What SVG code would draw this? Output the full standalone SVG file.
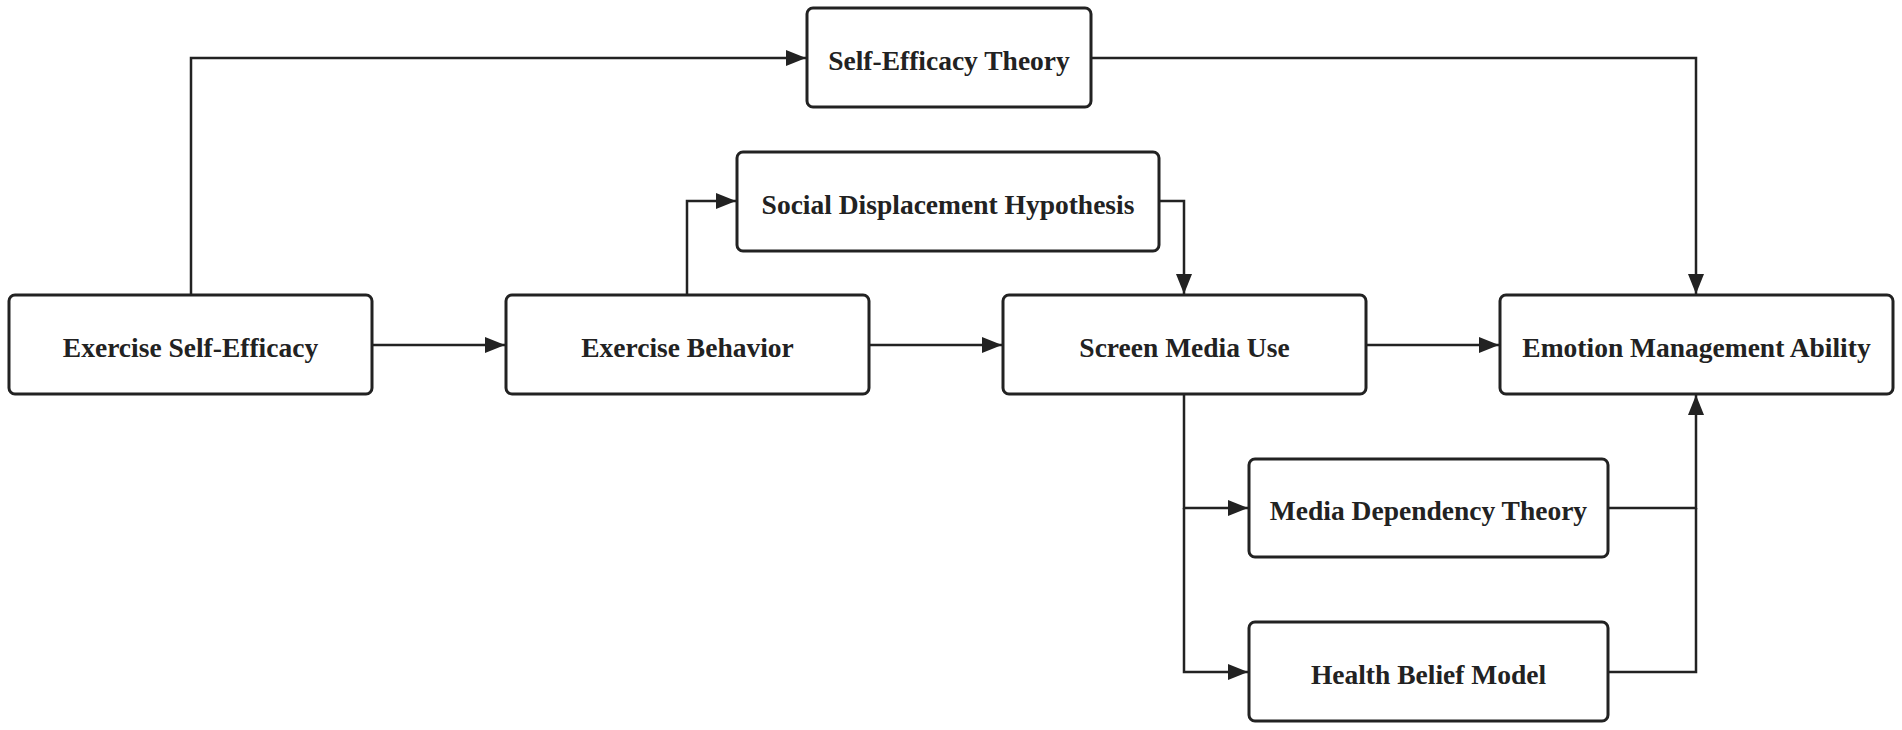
<svg xmlns="http://www.w3.org/2000/svg" width="1902" height="730" viewBox="0 0 1902 730">
<style>
.box{fill:#ffffff;stroke:#222222;stroke-width:3}
.lbl{font-family:"Liberation Serif","Times New Roman",serif;font-weight:bold;font-size:27.5px;fill:#222222;text-anchor:middle}
.con{fill:none;stroke:#222222;stroke-width:2.5}
</style>
<defs>
<marker id="arr" markerUnits="userSpaceOnUse" markerWidth="22" markerHeight="18" refX="20" refY="8" orient="auto">
<path d="M0,0 L20,8 L0,16 z" fill="#222222"/>
</marker>
</defs>
<rect width="1902" height="730" fill="#ffffff"/>
<g id="connectors">
<path class="con" d="M191,295 V58 H806" marker-end="url(#arr)"/>
<path class="con" d="M1091,58 H1696 V294" marker-end="url(#arr)"/>
<path class="con" d="M687,295 V201 H736" marker-end="url(#arr)"/>
<path class="con" d="M1159,201 H1184 V294" marker-end="url(#arr)"/>
<path class="con" d="M372,345 H505" marker-end="url(#arr)"/>
<path class="con" d="M869,345 H1002" marker-end="url(#arr)"/>
<path class="con" d="M1366,345 H1499" marker-end="url(#arr)"/>
<path class="con" d="M1184,394 V508 H1248" marker-end="url(#arr)"/>
<path class="con" d="M1184,508 V672 H1248" marker-end="url(#arr)"/>
<path class="con" d="M1608,508 H1696 V395" marker-end="url(#arr)"/>
<path class="con" d="M1608,672 H1696 V508"/>
</g>
<g id="n-ese">
<rect class="box" x="9" y="295" width="363" height="99" rx="6"/>
<text class="lbl" x="190.5" y="357">Exercise Self-Efficacy</text>
</g>
<g id="n-eb">
<rect class="box" x="506" y="295" width="363" height="99" rx="6"/>
<text class="lbl" x="687.5" y="357">Exercise Behavior</text>
</g>
<g id="n-smu">
<rect class="box" x="1003" y="295" width="363" height="99" rx="6"/>
<text class="lbl" x="1184.5" y="357">Screen Media Use</text>
</g>
<g id="n-ema">
<rect class="box" x="1500" y="295" width="393" height="99" rx="6"/>
<text class="lbl" x="1696.5" y="357">Emotion Management Ability</text>
</g>
<g id="n-set">
<rect class="box" x="807" y="8" width="284" height="99" rx="6"/>
<text class="lbl" x="949" y="70">Self-Efficacy Theory</text>
</g>
<g id="n-sdh">
<rect class="box" x="737" y="152" width="422" height="99" rx="6"/>
<text class="lbl" x="948" y="214">Social Displacement Hypothesis</text>
</g>
<g id="n-mdt">
<rect class="box" x="1249" y="459" width="359" height="98" rx="6"/>
<text class="lbl" x="1428.5" y="520">Media Dependency Theory</text>
</g>
<g id="n-hbm">
<rect class="box" x="1249" y="622" width="359" height="99" rx="6"/>
<text class="lbl" x="1428.5" y="684">Health Belief Model</text>
</g>
</svg>
